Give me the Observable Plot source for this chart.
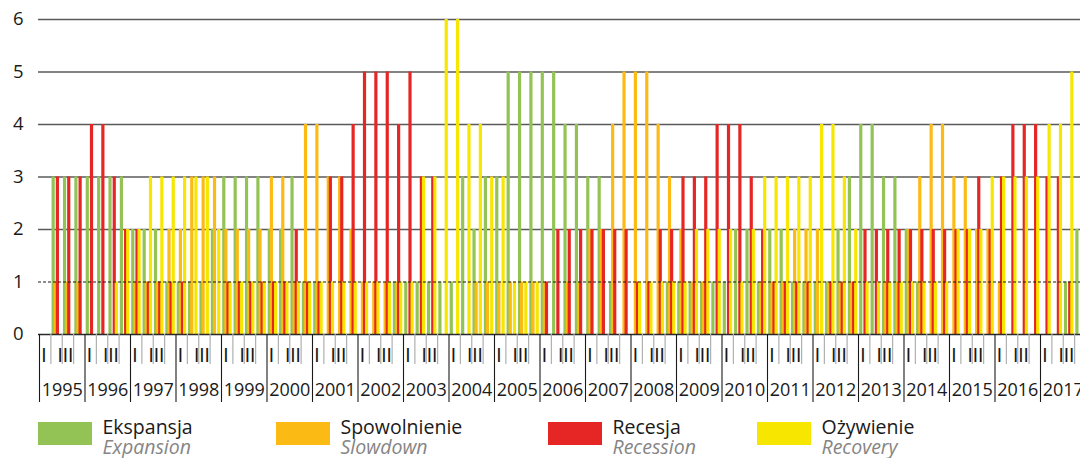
<!DOCTYPE html>
<html>
<head>
<meta charset="utf-8">
<script src="https://cdn.jsdelivr.net/npm/d3@7"></script>
<script src="https://cdn.jsdelivr.net/npm/@observablehq/plot@0.6"></script>
<style>
  body { margin: 0; background: #fff; font-family: "Open Sans", sans-serif; }
  #wrap { width: 1080px; height: 458px; overflow: hidden; position: relative; background: #fff; }
  #legend { position: relative; height: 54px; }
  .sw { position: absolute; top: 18px; width: 54px; height: 23px; }
  .lt { position: absolute; font-size: 19.5px; line-height: 19.5px; height: 19.5px; color: #1a1a1a; white-space: nowrap; }
  .lt.en { font-style: italic; color: #858585; }
</style>
</head>
<body>
<div id="wrap"><div id="chart"></div><div id="legend"></div></div>
<script>
// ---- data (quarters 1995 Q1 .. 2017 Q4; number of regions in each phase) ----
const years = [1995,1996,1997,1998,1999,2000,2001,2002,2003,2004,2005,2006,2007,2008,2009,2010,2011,2012,2013,2014,2015,2016,2017];
const quarterLabels = ["I", "II", "III", "IV"];
const yTicks = [0, 1, 2, 3, 4, 5, 6];

const expansion = [3,3,3,3,3,3,3,2,2,2,1,1,1,1,2,3,3,3,3,2,2,3,1,1,0,0,0,0,0,0,1,1,1,1,1,1,3,2,3,3,5,5,5,5,5,4,4,3,3,1,0,0,0,0,1,1,1,1,1,1,2,2,1,2,2,1,1,1,1,2,3,4,4,3,3,2,1,0,0,0,0,0,0,0,0,0,0,0,0,1,2,3];
const slowdown  = [1,1,1,0,0,0,0,1,1,1,2,2,3,3,3,2,2,2,2,3,3,1,4,4,3,3,2,1,1,1,1,0,0,0,0,0,0,1,1,1,1,1,1,1,0,1,1,2,2,4,5,5,5,4,3,2,1,1,0,0,0,0,1,1,1,2,2,2,1,1,1,0,0,1,1,2,3,4,4,3,3,2,2,1,0,0,0,0,0,0,0,0];
const recession = [3,3,3,4,4,3,2,2,1,1,1,1,0,0,0,1,1,1,1,1,1,2,1,1,3,3,4,5,5,5,4,5,3,3,0,0,0,0,0,0,0,0,0,1,2,2,2,2,2,2,2,1,1,2,2,3,3,3,4,4,4,3,2,1,1,1,1,0,1,1,1,2,2,2,2,2,2,2,2,2,2,3,2,3,4,4,4,3,3,1,0,0];
const recovery  = [0,0,0,0,0,1,2,2,3,3,3,3,3,3,2,1,1,1,1,1,1,1,1,1,1,1,1,1,1,1,1,1,3,3,6,6,4,4,3,3,1,1,1,0,0,0,0,0,0,0,0,1,1,1,1,1,2,2,2,2,1,2,3,3,3,3,3,4,4,3,2,1,1,1,1,1,1,1,1,2,2,2,3,3,3,3,3,4,4,5,5,4];

const seriesNames = ["Ekspansja", "Spowolnienie", "Recesja", "Ożywienie"];
const seriesNamesEn = ["Expansion", "Slowdown", "Recession", "Recovery"];
const seriesValues = [expansion, slowdown, recession, recovery];
const seriesColors = ["#92c354", "#fcbb14", "#e62625", "#f6e600"];

// ---- layout helpers (in quarter units of the x scale) ----
const nQ = years.length * 4;
const barOffset = 0.105, barStep = 0.185, barWidth = 0.28;  // grouped, overlapping bars
// the original draws each quarter's group one slot to the right of its axis slot
const slotShift = 1;

const marks = [];
// grid lines
marks.push(Plot.ruleY(yTicks.filter(d => d >= 2), {stroke: "#5a5a5a", strokeWidth: 1.3}));

// bars, one mark per phase (later phases drawn on top)
seriesValues.forEach((vals, si) => {
  const rows = vals.map((v, i) => ({i, v})).filter(d => d.v > 0);
  marks.push(Plot.rect(rows, {
    x1: d => d.i + slotShift + barOffset + si * barStep,
    x2: d => d.i + slotShift + barOffset + si * barStep + barWidth,
    y1: 0,
    y2: "v",
    fill: seriesColors[si]
  }));
});

// dashed line at 1, baseline at 0
marks.push(Plot.ruleY([1], {stroke: "#1a1a1a", strokeWidth: 1, strokeDasharray: "3,2"}));
marks.push(Plot.ruleY([0], {stroke: "#2a2a2a", strokeWidth: 1.3}));

// y axis labels
marks.push(Plot.axisY(yTicks, {tickSize: 0, tickPadding: 15, fontSize: 18.5, tickFormat: d => String(d), label: null}));

// x axis: year separators, quarter ticks, quarter labels, year labels
const yearBounds = d3.range(0, years.length + 1).map(k => k * 4);
const quarterBounds = d3.range(0, nQ).filter(q => q % 4 !== 0);
const q1Centers = years.map((y, k) => k * 4 + 0.5);
const q3Centers = years.map((y, k) => k * 4 + 2.5);
const yearCenters = years.map((y, k) => k * 4 + 2);
const narrow = "Liberation Sans Narrow, DejaVu Sans Condensed, sans-serif";

marks.push(Plot.axisX(quarterBounds, {tickSize: 30, tickFormat: () => "", stroke: "#b0b0b0", strokeWidth: 1.2, label: null}));
marks.push(Plot.axisX(yearBounds, {tickSize: 68, tickFormat: () => "", stroke: "#1a1a1a", strokeWidth: 1.1, label: null}));
marks.push(Plot.axisX(q1Centers, {tickSize: 0, tickPadding: 13, tickFormat: () => quarterLabels[0], fontSize: 20, fontFamily: narrow, dx: -1.2, label: null}));
marks.push(Plot.axisX(q3Centers, {tickSize: 0, tickPadding: 13, tickFormat: () => quarterLabels[2], fontSize: 20, fontFamily: narrow, dx: -2.5, label: null}));
marks.push(Plot.axisX(yearCenters, {tickSize: 0, tickPadding: 49, tickFormat: d => String(years[Math.round((d - 2) / 4)]), fontSize: 18, label: null}));

const chart = Plot.plot({
  width: 1080,
  height: 404,
  marginLeft: 38,
  marginRight: 0,
  marginTop: 19,
  marginBottom: 70,
  x: {type: "linear", domain: [0, nQ], range: [39, 39 + nQ * 11.375], axis: null},
  y: {domain: [0, 6], axis: null},
  style: {fontFamily: "Open Sans, sans-serif", fontSize: "18px", color: "#1a1a1a", background: "white", overflow: "hidden"},
  marks
});
document.getElementById("chart").appendChild(chart);

// legend
const legendX = [38, 276, 548, 757];
const legend = document.getElementById("legend");
seriesNames.forEach((name, i) => {
  const sw = document.createElement("div");
  sw.className = "sw";
  sw.style.left = legendX[i] + "px";
  sw.style.background = seriesColors[i];
  legend.appendChild(sw);
  const t = document.createElement("div");
  t.className = "lt";
  t.style.left = (legendX[i] + 64.5) + "px";
  t.style.top = "13px";
  t.textContent = name;
  legend.appendChild(t);
  const e = document.createElement("div");
  e.className = "lt en";
  e.style.left = (legendX[i] + 64.5) + "px";
  e.style.top = "32.5px";
  e.textContent = seriesNamesEn[i];
  legend.appendChild(e);
});
</script>
</body>
</html>
